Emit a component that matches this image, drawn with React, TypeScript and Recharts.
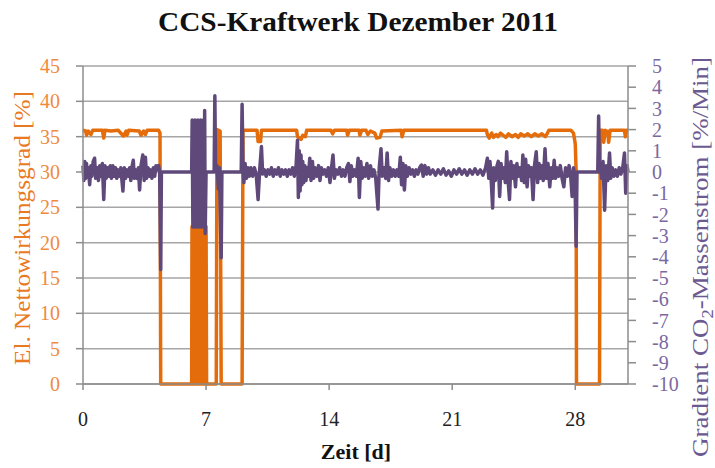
import { ComposedChart, Line, XAxis, YAxis, CartesianGrid } from 'recharts'

const X_TICKS = [0, 7, 14, 21, 28]
const LEFT_TICKS = [0, 5, 10, 15, 20, 25, 30, 35, 40, 45]
const RIGHT_TICKS = [-10, -9, -8, -7, -6, -5, -4, -3, -2, -1, 0, 1, 2, 3, 4, 5]

const ORANGE = '#E46C0A'
const PURPLE = '#5F497A'
const GRID = '#A6A6A6'
const FONT = '"Liberation Serif", "Times New Roman", serif'

type P = [number, number]

// El. Nettowirkungsgrad [%] als [Tag, Wert]
const effWoche1: P[] = [
  [0, 35.9], [0.15, 35.8], [0.2, 35.2], [0.3, 35.8], [0.45, 35.3], [0.55, 35.9], [1.1, 35.9],
  [1.18, 34.8], [1.25, 35.9], [1.6, 35.8], [2.0, 35.9], [2.3, 35.1], [2.45, 35.8], [2.5, 35.2],
  [2.6, 35.9], [3.2, 35.8], [3.3, 35.2], [3.45, 35.8], [3.55, 35.3], [3.65, 35.9], [4.3, 35.9],
  [4.38, 35.5], [4.42, 0], [6.18, 0],
  [6.2, 22.3], [6.24, 0], [6.28, 22.3], [6.32, 0], [6.36, 22.3], [6.4, 0], [6.44, 22.3], [6.48, 0],
  [6.52, 22.3], [6.56, 0], [6.6, 22.3], [6.64, 0], [6.68, 22.3], [6.72, 0], [6.76, 22.3], [6.8, 0],
  [6.84, 22.3], [6.88, 0], [6.92, 22.3], [6.96, 0], [7.0, 22.3], [7.03, 0],
  [7.58, 0], [7.62, 36.0], [7.8, 35.8], [7.86, 0], [9.05, 0],
]
const effMitte: P[] = [
  [9.1, 35.9], [9.9, 35.9], [9.96, 34.3], [10.1, 34.3], [10.15, 35.9], [12.15, 35.9], [12.2, 35.0],
  [12.4, 34.6], [12.5, 35.2], [12.65, 35.0], [12.72, 35.9], [14.1, 35.9], [14.2, 35.4], [14.3, 35.9],
  [15.0, 35.9], [15.05, 35.2], [15.15, 35.9], [15.7, 35.9], [15.75, 35.2], [15.85, 35.9], [16.1, 35.9],
  [16.2, 35.3], [16.35, 35.8], [16.6, 35.5], [16.7, 34.8], [16.9, 34.9], [17.0, 35.8], [18.1, 35.9],
  [18.15, 35.0], [18.25, 35.9], [22.95, 35.9], [23.0, 35.3], [23.1, 34.8], [23.25, 35.5], [23.35, 34.9],
  [23.5, 35.3], [23.6, 35.0], [23.75, 35.5], [23.9, 35.2], [24.05, 34.9], [24.2, 35.4], [24.4, 35.0],
  [24.6, 35.3], [24.75, 34.9], [24.9, 35.4], [25.1, 35.1], [25.3, 35.4], [25.5, 35.0], [25.7, 35.4],
  [25.9, 35.1], [26.1, 35.4], [26.3, 35.0], [26.42, 35.5], [26.5, 35.9], [27.75, 35.9], [27.9, 35.5],
  [28.0, 34.0], [28.05, 30.0], [28.07, 0], [29.38, 0],
]
const effEnde: P[] = [
  [29.42, 35.9], [29.55, 35.9], [29.62, 34.2], [29.7, 35.9], [29.85, 35.7], [29.9, 34.2], [29.98, 35.9],
  [30.8, 35.9], [30.85, 35.0], [30.92, 35.9], [31.0, 35.9],
]

// Gradient CO2-Massenstrom [%/Min] als [Tag, Wert]
const gradWoche1: P[] = [
  [0, 0.3], [0.05, -0.4], [0.1, 0.5], [0.15, -0.3], [0.2, 0.4], [0.25, -0.2], [0.3, 0.2], [0.38, -0.6],
  [0.45, 0.3], [0.5, -0.2], [0.58, 0.5], [0.66, 0.65], [0.72, -0.3], [0.8, 0.2], [0.88, -0.4], [0.95, 0.3],
  [1.02, -0.2], [1.1, 0.4], [1.18, -1.3], [1.25, 0.3], [1.32, -0.3], [1.4, 0.2], [1.48, -0.2], [1.55, 0.3],
  [1.62, -0.3], [1.7, 0.3], [1.78, -0.2], [1.85, 0.2], [1.92, -0.3], [2.0, 0.1], [2.08, -0.2], [2.15, 0.2],
  [2.27, -0.9], [2.35, 0.2], [2.42, -0.3], [2.5, 0.1], [2.58, -0.2], [2.65, 0.2], [2.72, -0.4], [2.8, 0.3],
  [2.86, 0.55], [2.92, -0.3], [3.0, 0.1], [3.08, -0.3], [3.15, 0.2], [3.22, -0.85], [3.3, 0.3], [3.4, 0.8],
  [3.48, -0.4], [3.55, 0.7], [3.62, -0.3], [3.7, 0.2], [3.78, -0.2], [3.85, 0.1], [3.92, -0.3], [4.0, 0.2],
  [4.08, -0.2], [4.15, 0.3], [4.22, 0.1], [4.3, 0.3], [4.36, 0], [4.42, -4.6], [4.46, 0], [6.18, 0],
  [6.21, 2.45], [6.25, -2.6], [6.29, 2.4], [6.33, -2.5], [6.37, 2.45], [6.41, -2.6], [6.45, 2.4],
  [6.49, -2.55], [6.53, 2.45], [6.57, -2.6], [6.61, 2.4], [6.65, -2.5], [6.69, 2.45], [6.73, -2.6],
  [6.77, 2.4], [6.81, -2.5], [6.85, 2.45], [6.88, -2.6], [6.92, 2.9], [6.95, -2.9], [7.0, 0],
  [7.46, 0], [7.5, 3.6], [7.54, 0], [7.62, 0.3], [7.7, -0.8], [7.76, 0.2], [7.86, -4.05], [7.9, 0],
  [9.0, 0], [9.05, 3.2],
]
const gradMitte: P[] = [
  [9.1, 0.3], [9.15, -0.5], [9.22, 0.4], [9.3, -0.3], [9.38, 0.2], [9.46, -0.2], [9.55, 0.2], [9.65, -0.2],
  [9.75, 0.2], [9.85, -0.1], [9.96, -1.3], [10.05, 0.1], [10.15, 1.2], [10.22, -0.1], [10.32, 0.1],
  [10.42, -0.2], [10.52, 0.1], [10.62, -0.1], [10.72, 0.2], [10.82, -0.2], [10.92, 0.1], [11.02, -0.1],
  [11.12, 0.2], [11.22, -0.2], [11.32, 0.1], [11.42, -0.1], [11.52, 0.1], [11.62, -0.2], [11.72, 0.1],
  [11.82, -0.1], [11.92, 0.2], [12.02, -0.2], [12.12, 0.3], [12.2, 1.5], [12.25, -1.2], [12.3, 1.0],
  [12.35, -0.9], [12.4, 0.8], [12.45, -0.6], [12.5, 0.5], [12.55, -0.5], [12.62, 0.3], [12.68, -0.4],
  [12.75, 0.2], [12.82, -0.2], [12.9, 0.65], [12.97, -0.4], [13.05, 0.5], [13.12, -0.3], [13.2, 0.2],
  [13.3, -0.2], [13.4, 0.3], [13.48, -0.4], [13.56, 0.2], [13.65, -0.1], [13.75, 0.1], [13.85, -0.2],
  [13.95, 0.2], [14.05, -0.5], [14.15, 0.3], [14.22, 0.8], [14.3, -0.3], [14.4, 0.1], [14.5, -0.1],
  [14.6, 0.2], [14.7, -0.2], [14.8, 0.1], [14.9, -0.2], [15.0, 0.2], [15.1, 0.4], [15.18, -0.45],
  [15.26, 0.3], [15.35, -0.2], [15.45, 0.1], [15.55, -0.2], [15.65, 0.65], [15.72, -1.2], [15.8, 0.5],
  [15.88, -0.3], [15.96, 0.2], [16.05, -0.2], [16.15, 0.4], [16.25, -0.3], [16.35, 0.3], [16.45, -0.2],
  [16.55, 0.1], [16.65, -0.3], [16.78, -1.75], [16.85, 0.2], [16.95, 1.1], [17.02, -0.2], [17.12, 0.2],
  [17.22, -0.3], [17.3, 0.9], [17.38, -0.4], [17.46, 0.2], [17.56, -0.2], [17.66, 0.1], [17.76, -0.2],
  [17.86, 0.1], [17.96, -0.2], [18.05, 0.7], [18.12, -0.6], [18.2, 0.4], [18.28, -0.85], [18.36, 0.3],
  [18.45, -0.2], [18.55, 0.2], [18.65, -0.1], [18.75, 0.1], [18.85, -0.2], [18.95, 0.1], [19.05, -0.1],
  [19.15, 0.2], [19.25, 0.33], [19.35, -0.2], [19.45, 0.3], [19.55, -0.1], [19.65, 0.2], [19.75, -0.1],
  [19.9, 0.1], [20.05, -0.15], [20.2, 0.1], [20.35, -0.1], [20.5, 0.15], [20.65, -0.15], [20.8, 0.05],
  [20.95, -0.2], [21.1, 0.1], [21.25, -0.1], [21.4, 0.15], [21.55, -0.1], [21.7, 0.1], [21.85, -0.15],
  [22.0, 0.1], [22.15, -0.1], [22.3, 0.15], [22.45, -0.1], [22.6, 0.1], [22.75, -0.15], [22.9, 0.2],
  [23.0, 0.65], [23.08, -0.3], [23.15, 0.5], [23.22, -0.4], [23.3, -1.7], [23.36, 0.2], [23.45, -0.4],
  [23.55, 0.3], [23.62, 0.5], [23.7, -1.15], [23.78, 0.4], [23.86, -0.3], [23.94, 0.2], [24.02, -0.5],
  [24.1, 0.95], [24.18, -0.4], [24.26, -1.3], [24.34, 0.5], [24.42, -0.3], [24.5, 0.3], [24.6, -0.7],
  [24.68, 0.4], [24.76, -0.2], [24.85, 0.2], [24.95, -0.4], [25.02, 0.8], [25.1, -0.5], [25.18, 0.6],
  [25.26, -0.7], [25.34, 0.3], [25.42, -0.2], [25.5, 0.2], [25.6, -1.3], [25.68, 0.3], [25.78, 0.95],
  [25.86, -0.5], [25.94, 0.4], [26.02, -0.3], [26.1, 0.3], [26.18, -0.4], [26.28, 1.1], [26.36, -0.3],
  [26.45, 0.4], [26.55, -0.7], [26.63, 0.2], [26.72, -0.3], [26.8, 0.55], [26.88, -0.3], [26.96, 0.2],
  [27.05, -0.2], [27.15, 0.3], [27.25, -0.3], [27.35, -0.7], [27.45, 0.2], [27.55, -0.2], [27.65, 0.3],
  [27.75, -0.3], [27.82, -1.15], [27.9, 0.2], [27.98, -0.2], [28.05, -3.5], [28.1, 0],
]
const gradEnde: P[] = [
  [29.28, 0], [29.33, 2.64], [29.38, 0], [29.45, 0.4], [29.5, -0.3], [29.58, 0.5], [29.67, -1.8],
  [29.75, 0.3], [29.85, -0.4], [29.95, 0.9], [30.02, -0.3], [30.1, 0.2], [30.2, -0.2], [30.3, 0.1],
  [30.4, -0.2], [30.5, 0.2], [30.6, -0.1], [30.7, 0.2], [30.8, 0.9], [30.87, -1.0], [30.95, 0.3], [31.0, 0],
]

const toRows = (pts: P[]) => pts.map(([d, v]) => ({ d, v }))
const effData = toRows([...effWoche1, ...effMitte, ...effEnde])
const gradData = toRows([...gradWoche1, ...gradMitte, ...gradEnde])

export default function App() {
  return (
    <div style={{ position: 'absolute', left: 0, top: 0, width: 715, height: 468, background: '#fff' }}>
      <ComposedChart width={715} height={468} margin={{ top: 66, right: 0, bottom: 0, left: 0 }}>
        <CartesianGrid yAxisId="left" vertical={false} stroke={GRID} strokeWidth={1.5} />
        <XAxis
          type="number" dataKey="d" domain={[0, 31]} ticks={X_TICKS} interval={0}
          axisLine={{ stroke: '#8C8C8C', strokeWidth: 1.5 }} tickLine={{ stroke: '#8C8C8C', strokeWidth: 1.5 }}
          tickSize={6} tickMargin={22} height={84}
          tick={{ fill: '#222', fontSize: 20, fontFamily: FONT }}
        />
        <YAxis
          yAxisId="left" domain={[0, 45]} ticks={LEFT_TICKS} interval={0} width={83}
          axisLine={{ stroke: '#8C8C8C', strokeWidth: 1.5 }} tickLine={{ stroke: '#8C8C8C', strokeWidth: 1.5 }}
          tickSize={7} tickMargin={16}
          tick={{ fill: '#F08A3E', fontSize: 20, fontFamily: FONT }}
        />
        <YAxis
          yAxisId="right" orientation="right" domain={[-10, 5]} ticks={RIGHT_TICKS} interval={0} width={87}
          axisLine={{ stroke: '#8C8C8C', strokeWidth: 1.5 }} tickLine={{ stroke: '#8C8C8C', strokeWidth: 1.5 }}
          tickSize={8} tickMargin={16}
          tick={{ fill: '#7B68A0', fontSize: 20, fontFamily: FONT }}
        />
        <Line yAxisId="left" data={effData} dataKey="v" type="linear" stroke={ORANGE} strokeWidth={3.5}
          strokeLinejoin="round" dot={false} activeDot={false} isAnimationActive={false} />
        <Line yAxisId="right" data={gradData} dataKey="v" type="linear" stroke={PURPLE} strokeWidth={3.5}
          strokeLinejoin="round" dot={false} activeDot={false} isAnimationActive={false} />
      </ComposedChart>

      {/* Titel und Achsenbeschriftungen */}
      <svg width={715} height={468} style={{ position: 'absolute', left: 0, top: 0, pointerEvents: 'none' }}>
        <text x={358} y={31} textAnchor="middle" fontFamily={FONT} fontWeight="bold" fontSize={27}
          fill="#111" textLength={400} lengthAdjust="spacingAndGlyphs">
          CCS-Kraftwerk Dezember 2011
        </text>
        <text x={356} y={459} textAnchor="middle" fontFamily={FONT} fontWeight="bold" fontSize={22} fill="#111">
          Zeit [d]
        </text>
        <text transform="translate(30,228) rotate(-90)" textAnchor="middle" fontFamily={FONT} fontSize={23}
          fill="#E97A24" textLength={274} lengthAdjust="spacingAndGlyphs">
          El. Nettowirkungsgrad [%]
        </text>
        <text transform="translate(708,257) rotate(-90)" textAnchor="middle" fontFamily={FONT} fontSize={23}
          fill="#6B5A92" textLength={400} lengthAdjust="spacingAndGlyphs">
          Gradient CO<tspan dy={5} fontSize={16}>2</tspan><tspan dy={-5}>-Massenstrom [%/Min]</tspan>
        </text>
      </svg>
    </div>
  )
}
